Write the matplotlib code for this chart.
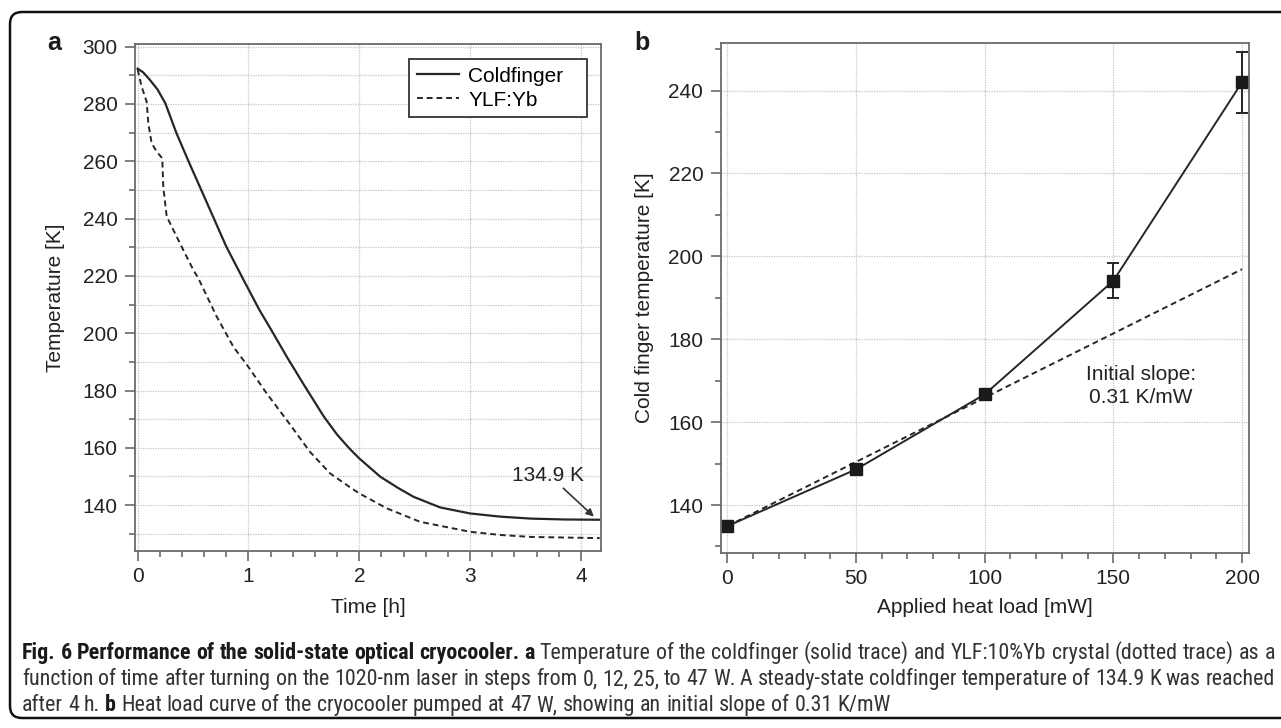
import matplotlib
matplotlib.use("Agg")
import matplotlib.pyplot as plt
import numpy as np
from matplotlib.patches import FancyBboxPatch
from matplotlib.ticker import MultipleLocator

# ---------------- data ----------------
# Panel a: temperature vs time
t_coldfinger = [0.0, 0.05, 0.11, 0.18, 0.25, 0.35, 0.46, 0.57, 0.68, 0.80, 0.95,
                1.10, 1.20, 1.35, 1.50, 1.68, 1.80, 1.91, 2.00, 2.19, 2.35, 2.49,
                2.73, 3.00, 3.27, 3.55, 3.85, 4.17]
T_coldfinger = [292.3, 291.0, 288.4, 285.0, 280.2, 269.8, 259.9, 250.3, 240.7, 230.2, 219.0,
                208.0, 201.5, 191.5, 182.0, 170.9, 164.6, 159.8, 156.3, 149.9, 146.0, 142.9,
                139.2, 137.1, 136.0, 135.3, 135.0, 134.9]
t_ylf = [0.0, 0.036, 0.081, 0.096, 0.126, 0.171, 0.222, 0.231, 0.262, 0.307, 0.412,
         0.502, 0.547, 0.713, 0.863, 0.998, 1.164, 1.345, 1.555, 1.736, 1.91, 2.0,
         2.247, 2.548, 3.0, 3.27, 3.55, 4.17]
T_ylf = [292.0, 286.0, 280.8, 273.3, 266.3, 263.4, 261.0, 251.1, 240.7, 237.2, 229.0,
         222.1, 219.2, 205.8, 195.3, 188.3, 179.0, 169.7, 158.6, 151.1, 146.4, 144.1,
         138.9, 134.2, 130.7, 129.6, 128.9, 128.5]
series_labels = ["Coldfinger", "YLF:Yb"]
steady_label = "134.9 K"
steady_text_pos = (3.70, 150.5)
steady_arrow_from = (3.841, 145.9)
steady_arrow_to = (4.117, 136.0)

# Panel b: heat load curve
heat_load = [0, 50, 100, 150, 200]
cf_temp = [134.9, 148.6, 166.7, 194.1, 242.0]
cf_err = [0, 0, 0, 4.2, 7.3]
fit_intercept = 134.9
fit_slope = 0.31
slope_label = "Initial slope:\n0.31 K/mW"
slope_label_pos = (160.6, 168.7)

xticks_a = [0, 1, 2, 3, 4]
yticks_a = [140, 160, 180, 200, 220, 240, 260, 280, 300]
xticks_b = [0, 50, 100, 150, 200]
yticks_b = [140, 160, 180, 200, 220, 240]

caption_lines = [
    [("Fig. 6 Performance of the solid-state optical cryocooler. a", "bold"),
     (" Temperature of the coldfinger (solid trace) and YLF:10%Yb crystal (dotted trace) as a", "normal")],
    [("function of time after turning on the 1020-nm laser in steps from 0, 12, 25, to 47 W. A steady-state coldfinger temperature of 134.9 K was reached", "normal")],
    [("after 4 h. ", "normal"), ("b", "bold"),
     (" Heat load curve of the cryocooler pumped at 47 W, showing an initial slope of 0.31 K/mW", "normal")],
]
caption_justify = [True, True, False]

# ---------------- style ----------------
W, H = 1281, 728
plt.rcParams["font.family"] = ["Liberation Sans", "DejaVu Sans"]
plt.rcParams["font.size"] = 15
fig = plt.figure(figsize=(W / 100, H / 100), dpi=100)

spine_col = "#6a6a6a"
line_col = "#262626"
grid_kw = dict(color="#c4c4c4", linestyle=(0, (1, 1)), linewidth=0.9)


def style_axes(ax):
    for s in ax.spines.values():
        s.set_color(spine_col)
        s.set_linewidth(1.3)
    ax.tick_params(which="both", direction="out", color=spine_col, width=1.2,
                   labelsize=15, labelcolor="#222222", top=False, right=False)
    ax.tick_params(which="major", length=7.5)
    ax.tick_params(which="minor", length=4)
    ax.tick_params(axis="x", pad=4)
    ax.tick_params(axis="y", pad=5)


# ---------------- panel a ----------------
axa = fig.add_axes([135 / W, 1 - 551 / H, (601.2 - 135) / W, (551 - 44) / H])
style_axes(axa)
axa.set_xlim(-0.024, 4.183)
axa.set_ylim(124.0, 300.9)
axa.set_xticks(xticks_a)
axa.set_yticks(yticks_a)
axa.xaxis.set_minor_locator(MultipleLocator(0.2))
axa.yaxis.set_minor_locator(MultipleLocator(10))
axa.grid(True, which="major", axis="x", **grid_kw)
axa.grid(True, which="both", axis="y", **grid_kw)
axa.set_axisbelow(True)
axa.plot(t_coldfinger, T_coldfinger, color=line_col, lw=1.6, label=series_labels[0])
axa.plot(t_ylf, T_ylf, color=line_col, lw=1.4, linestyle=(0, (3, 2)), label=series_labels[1])
leg = axa.legend(loc="upper left", bbox_to_anchor=(0.5884, 0.0, 0.3801, 0.970),
                 mode="expand", fontsize=15,
                 frameon=True, fancybox=False, framealpha=1, edgecolor="#333333",
                 handlelength=2.05, handletextpad=0.43, borderpad=0.35, labelspacing=0.25,
                 borderaxespad=0)
leg.get_frame().set_linewidth(1.3)
axa.text(*steady_text_pos, steady_label, fontsize=15, ha="center", va="center",
         color="#222222")
axa.annotate("", xy=steady_arrow_to, xytext=steady_arrow_from,
             arrowprops=dict(arrowstyle="-|>", color="#333333", lw=1.2,
                             mutation_scale=11, shrinkA=0, shrinkB=0))
axa.set_xlabel("Time [h]", fontsize=15, color="#222222")
axa.set_ylabel("Temperature [K]", fontsize=15, color="#222222")
axa.xaxis.set_label_coords(0.5, -0.093)
axa.yaxis.set_label_coords(-0.150, 0.5)

# ---------------- panel b ----------------
axb = fig.add_axes([720.7 / W, 1 - 552.7 / H, (1249 - 720.7) / W, (552.7 - 43.3) / H])
style_axes(axb)
axb.set_xlim(-2.56, 202.7)
axb.set_ylim(128.5, 251.4)
axb.set_xticks(xticks_b)
axb.set_yticks(yticks_b)
axb.xaxis.set_minor_locator(MultipleLocator(10))
axb.yaxis.set_minor_locator(MultipleLocator(10))
axb.grid(True, which="major", **grid_kw)
axb.set_axisbelow(True)
fit_x = np.array([heat_load[0], heat_load[-1]], dtype=float)
axb.plot(fit_x, fit_intercept + fit_slope * fit_x, color=line_col, lw=1.4,
         linestyle=(0, (3, 2)))
axb.errorbar(heat_load, cf_temp, yerr=cf_err, color=line_col, lw=1.4, marker="s",
             markersize=8, markerfacecolor="#1a1a1a", markeredgecolor="#1a1a1a",
             ecolor=line_col, elinewidth=1.4, capsize=4.5, capthick=1.4)
axb.text(*slope_label_pos, slope_label, fontsize=15, ha="center", va="center",
         color="#222222", linespacing=1.3)
axb.set_xlabel("Applied heat load [mW]", fontsize=15, color="#222222")
axb.set_ylabel("Cold finger temperature [K]", fontsize=15, color="#222222")
axb.xaxis.set_label_coords(0.5, -0.089)
axb.yaxis.set_label_coords(-0.126, 0.5)

# panel letters
fig.text(47 / W, 1 - 50 / H, "a", fontsize=18, fontweight="bold", color="#1a1a1a",
         va="baseline", ha="left")
fig.text(634 / W, 1 - 50 / H, "b", fontsize=18, fontweight="bold", color="#1a1a1a",
         va="baseline", ha="left")

# frame
frame = FancyBboxPatch((10, 10), 1340, 706, boxstyle="round,pad=0,rounding_size=12",
                       transform=None, fill=False, edgecolor="#111111", linewidth=1.8)
fig.add_artist(frame)

# caption with mixed weights (condensed face when available), justified lines
cap_family = ["Roboto Condensed", "Liberation Sans Narrow", "Open Sans Condensed",
              "DejaVu Sans", "Liberation Sans"]
cap_stretch = "condensed"
renderer = fig.canvas.get_renderer()
cap_x0, cap_x1 = 22.0, 1275.0


def text_w(txt, size, wt):
    t = fig.text(0, 0, txt, fontsize=size, fontweight=wt, family=cap_family,
                 fontstretch=cap_stretch)
    w = t.get_window_extent(renderer).width
    t.remove()
    return w


def tokens(runs):
    out = []
    for txt, wt in runs:
        for w in txt.split(" "):
            if w:
                out.append((w, wt))
    return out


def natural_width(runs, size):
    toks = tokens(runs)
    sp = text_w("a a", size, "normal") - text_w("aa", size, "normal")
    return sum(text_w(w, size, wt) for w, wt in toks) + sp * (len(toks) - 1)


base_size = 13.0
widest = max(natural_width(caption_lines[0], base_size),
             natural_width(caption_lines[1], base_size))
cap_size = min(base_size * (cap_x1 - cap_x0) / widest, 16.0)
space_w = text_w("a a", cap_size, "normal") - text_w("aa", cap_size, "normal")
baselines = [659, 685, 711]
for runs, base, just in zip(caption_lines, baselines, caption_justify):
    toks = tokens(runs)
    widths = [text_w(w, cap_size, wt) for w, wt in toks]
    gap = space_w
    if just and len(toks) > 1:
        gap = (cap_x1 - cap_x0 - sum(widths)) / (len(toks) - 1)
    x = cap_x0
    for (w, wt), ww in zip(toks, widths):
        fig.text(x / W, 1 - base / H, w, fontsize=cap_size, fontweight=wt,
                 family=cap_family, fontstretch=cap_stretch,
                 va="baseline", ha="left",
                 color="#1a1a1a" if wt == "bold" else "#333333")
        x += ww + gap

fig.savefig("out.png", dpi=100)
